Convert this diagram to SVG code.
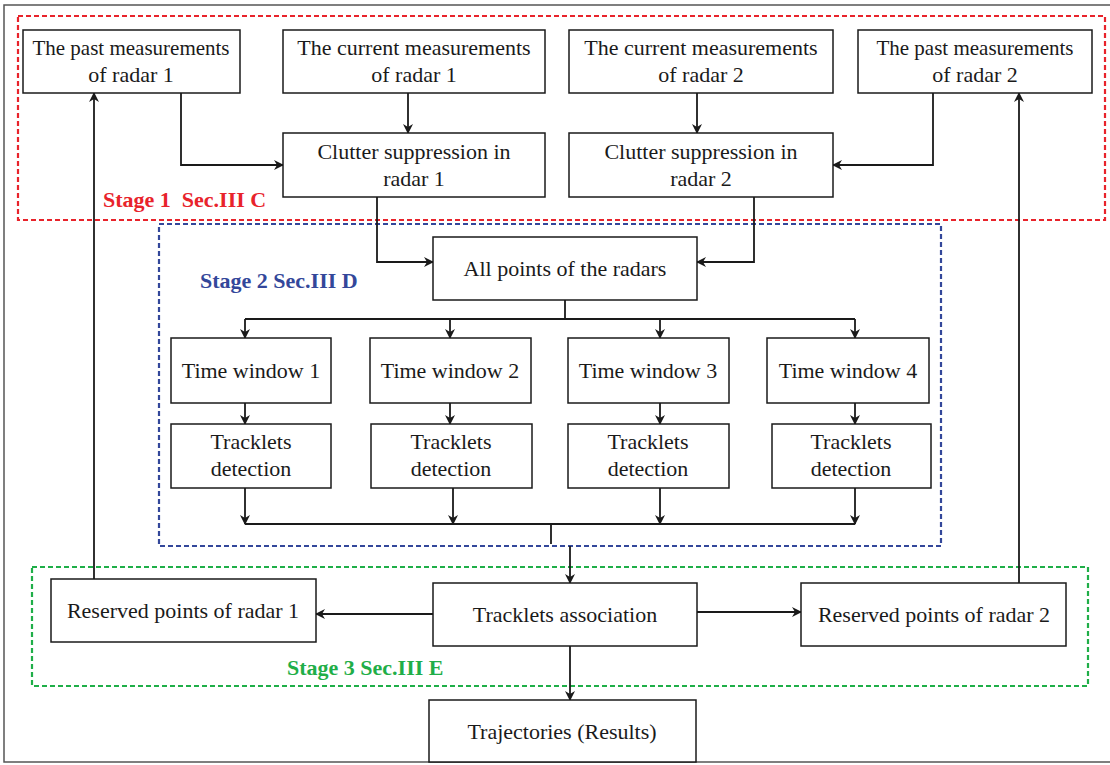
<svg xmlns="http://www.w3.org/2000/svg" width="1110" height="765" viewBox="0 0 1110 765">
<defs>
<marker id="ah" markerWidth="10" markerHeight="10" refX="9" refY="5" orient="auto" markerUnits="userSpaceOnUse">
<path d="M0,0 L10,5 L0,10 L3,5 Z" fill="#1a1a1a"/>
</marker>
<style>
.box{fill:#fff;stroke:#1a1a1a;stroke-width:1.5}
.t{font-family:"Liberation Serif","Times New Roman",serif;font-size:22px;fill:#1a1a1a;text-anchor:middle}
.s{font-size:21px}
.c{fill:none;stroke:#1a1a1a;stroke-width:1.8}
.a{marker-end:url(#ah)}
.lbl{font-family:"Liberation Serif","Times New Roman",serif;font-size:22px;font-weight:bold;white-space:pre}
</style>
</defs>
<rect x="0" y="0" width="1110" height="765" fill="#fff"/>
<rect id="frame" x="4" y="5" width="1110" height="757" fill="none" stroke="#555" stroke-width="1.5"/>
<g id="stages">
<rect x="18" y="16" width="1087" height="204" fill="none" stroke="#e8232b" stroke-width="2.2" stroke-dasharray="5,3"/>
<text class="lbl" x="103" y="207" fill="#e8232b">Stage 1  Sec.III C</text>
<rect x="159" y="224" width="782" height="322" fill="none" stroke="#33479a" stroke-width="2.2" stroke-dasharray="5,3"/>
<text class="lbl" x="200" y="288" fill="#33479a">Stage 2 Sec.III D</text>
<rect x="32" y="567" width="1056" height="119" fill="none" stroke="#1fae48" stroke-width="2.2" stroke-dasharray="5,3"/>
<text class="lbl" x="287" y="675" fill="#1fae48">Stage 3 Sec.III E</text>
</g>
<g id="connectors">
<path class="c a" d="M181,93 V165 H283"/>
<path class="c a" d="M408,93 V133"/>
<path class="c a" d="M697,93 V133"/>
<path class="c a" d="M933,93 V165 H833"/>
<path class="c a" d="M377,197 V262 H433"/>
<path class="c a" d="M754,197 V262 H697"/>
<path class="c" d="M565,300 V319 M245,319 H855"/>
<path class="c a" d="M245,319 V338"/>
<path class="c a" d="M450,319 V338"/>
<path class="c a" d="M660,319 V338"/>
<path class="c a" d="M855,319 V338"/>
<path class="c a" d="M245,403 V424"/>
<path class="c a" d="M450,403 V424"/>
<path class="c a" d="M660,403 V424"/>
<path class="c a" d="M855,403 V424"/>
<path class="c a" d="M245,488 V524"/>
<path class="c a" d="M453,488 V524"/>
<path class="c a" d="M660,488 V524"/>
<path class="c a" d="M855,488 V524"/>
<path class="c" d="M245,524 H855 M551,524 V544"/>
<path class="c a" d="M570,546 V583"/>
<path class="c a" d="M433,614 H316"/>
<path class="c a" d="M697,612 H801"/>
<path class="c a" d="M94,579 V93"/>
<path class="c a" d="M1019,583 V93"/>
<path class="c a" d="M570,646 V700"/>
</g>
<g id="past1"><rect class="box" x="23" y="30" width="217" height="63"/><text class="t s" x="131" y="55">The past measurements</text><text class="t" x="131" y="82">of radar 1</text></g>
<g id="cur1"><rect class="box" x="283" y="30" width="262" height="63"/><text class="t" x="414" y="55">The current measurements</text><text class="t" x="414" y="82">of radar 1</text></g>
<g id="cur2"><rect class="box" x="569" y="30" width="264" height="63"/><text class="t" x="701" y="55">The current measurements</text><text class="t" x="701" y="82">of radar 2</text></g>
<g id="past2"><rect class="box" x="858" y="30" width="234" height="63"/><text class="t s" x="975" y="55">The past measurements</text><text class="t" x="975" y="82">of radar 2</text></g>
<g id="clutter1"><rect class="box" x="283" y="133" width="262" height="64"/><text class="t" x="414" y="159">Clutter suppression in</text><text class="t" x="414" y="186">radar 1</text></g>
<g id="clutter2"><rect class="box" x="569" y="133" width="264" height="64"/><text class="t" x="701" y="159">Clutter suppression in</text><text class="t" x="701" y="186">radar 2</text></g>
<g id="allpoints"><rect class="box" x="433" y="237" width="264" height="63"/><text class="t" x="565" y="276">All points of the radars</text></g>
<g id="tw1"><rect class="box" x="171" y="338" width="160" height="65"/><text class="t" x="251" y="378">Time window 1</text></g>
<g id="tw2"><rect class="box" x="370" y="338" width="161" height="65"/><text class="t" x="450" y="378">Time window 2</text></g>
<g id="tw3"><rect class="box" x="568" y="338" width="161" height="65"/><text class="t" x="648" y="378">Time window 3</text></g>
<g id="tw4"><rect class="box" x="767" y="338" width="162" height="65"/><text class="t" x="848" y="378">Time window 4</text></g>
<g id="td1"><rect class="box" x="171" y="424" width="160" height="64"/><text class="t" x="251" y="449">Tracklets</text><text class="t" x="251" y="476">detection</text></g>
<g id="td2"><rect class="box" x="371" y="424" width="161" height="64"/><text class="t" x="451" y="449">Tracklets</text><text class="t" x="451" y="476">detection</text></g>
<g id="td3"><rect class="box" x="568" y="424" width="161" height="64"/><text class="t" x="648" y="449">Tracklets</text><text class="t" x="648" y="476">detection</text></g>
<g id="td4"><rect class="box" x="772" y="424" width="159" height="64"/><text class="t" x="851" y="449">Tracklets</text><text class="t" x="851" y="476">detection</text></g>
<g id="reserved1"><rect class="box" x="51" y="579" width="265" height="63"/><text class="t" x="183" y="618">Reserved points of radar 1</text></g>
<g id="assoc"><rect class="box" x="433" y="583" width="264" height="63"/><text class="t" x="565" y="622">Tracklets association</text></g>
<g id="reserved2"><rect class="box" x="801" y="583" width="265" height="63"/><text class="t" x="934" y="622">Reserved points of radar 2</text></g>
<g id="traj"><rect class="box" x="429" y="700" width="267" height="62"/><text class="t" x="562" y="739">Trajectories (Results)</text></g>
</svg>
